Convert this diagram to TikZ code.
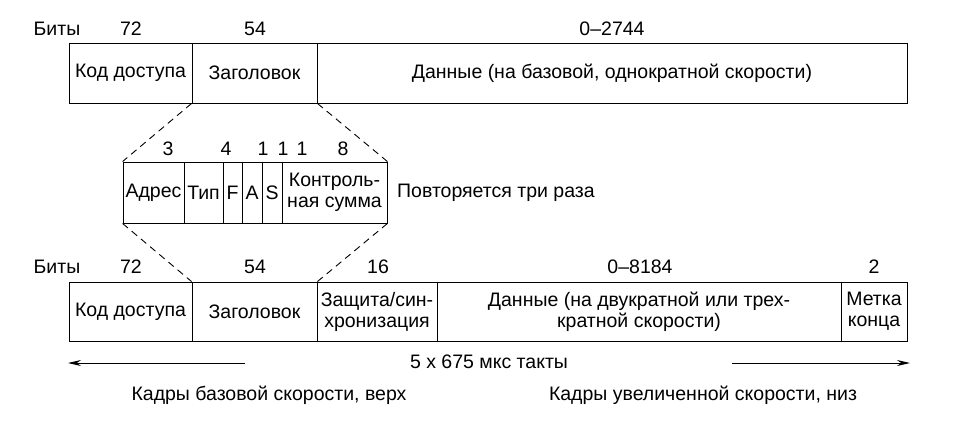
\documentclass[tikz,border=0pt]{standalone}
\usepackage{fontspec}
\setmainfont{Liberation Sans}
\usetikzlibrary{arrows.meta}
\begin{document}
\begin{tikzpicture}[x=1pt,y=-1pt,
  every node/.style={font=\fontsize{19.5}{21}\selectfont},
  cell/.style={draw,line width=0.9pt,inner sep=0pt,align=center,anchor=center},
  lbl/.style={inner sep=0pt,anchor=center},
  zoomline/.style={line width=0.9pt,dash pattern=on 7pt off 5pt},
  timearrow/.style={line width=0.9pt,-{Stealth[length=13pt,width=6pt]}}]
\useasboundingbox (0,0) rectangle (976,424);
% top frame
\node[cell,minimum width=123pt,minimum height=60pt] (acc1) at (130.5,73) {Код доступа};
\node[cell,minimum width=125pt,minimum height=60pt] (hdr1) at (254.5,73) {Заголовок};
\node[cell,minimum width=590pt,minimum height=60pt] (dat1) at (612,73) {Данные (на базовой, однократной скорости)};
\node[lbl] (bits1) at (57,29) {Биты};
\node[lbl] (l72a) at (131,29) {72};
\node[lbl] (l54a) at (255,29) {54};
\node[lbl] (l2744) at (612,29) {0–2744};
% middle header detail
\node[cell,minimum width=61pt,minimum height=61pt] (addr) at (153.5,192.5) {Адрес};
\node[cell,minimum width=39pt,minimum height=61pt] (type) at (203.5,192.5) {Тип};
\node[cell,minimum width=19pt,minimum height=61pt] (fF) at (232.5,192.5) {F};
\node[cell,minimum width=20pt,minimum height=61pt] (fA) at (252,192.5) {A};
\node[cell,minimum width=20pt,minimum height=61pt] (fS) at (272,192.5) {S};
\node[cell,minimum width=105pt,minimum height=61pt] (crc) at (334.5,192.5) {Контроль-\\ная сумма};
\node[lbl,anchor=west] (rep) at (397,193) {Повторяется три раза};
\node[lbl] (l3) at (168,149) {3};
\node[lbl] (l4) at (226,149) {4};
\node[lbl] (l1a) at (263,149) {1};
\node[lbl] (l1b) at (283,149) {1};
\node[lbl] (l1c) at (302,149) {1};
\node[lbl] (l8) at (343,149) {8};
% bottom frame
\node[cell,minimum width=123pt,minimum height=59pt] (acc2) at (130.5,311.5) {Код доступа};
\node[cell,minimum width=125pt,minimum height=59pt] (hdr2) at (254.5,311.5) {Заголовок};
\node[cell,minimum width=120pt,minimum height=59pt] (sync) at (377,311.5) {Защита/син-\\хронизация};
\node[cell,minimum width=404pt,minimum height=59pt] (dat2) at (639,311.5) {Данные (на двукратной или трех-\\кратной скорости)};
\node[cell,minimum width=66pt,minimum height=59pt] (end) at (874,311.5) {Метка\\конца};
\node[lbl] (bits2) at (57,267) {Биты};
\node[lbl] (l72b) at (131,267) {72};
\node[lbl] (l54b) at (255,267) {54};
\node[lbl] (l16) at (378,267) {16};
\node[lbl] (l8184) at (640,267) {0–8184};
\node[lbl] (l2) at (874,267) {2};
% dashed zoom lines
\draw[zoomline] (hdr1.south west) -- (addr.north west);
\draw[zoomline] (hdr1.south east) -- (crc.north east);
\draw[zoomline] (addr.south west) -- (hdr2.north west);
\draw[zoomline] (crc.south east) -- (hdr2.north east);
% time line
\node[lbl] (slot) at (489,362) {5 x 675 мкс такты};
\coordinate (la) at (245,363);
\coordinate (lb) at (68,363);
\coordinate (ra) at (732,363);
\coordinate (rb) at (910,363);
\draw[timearrow] (la) -- (lb);
\draw[timearrow] (ra) -- (rb);
\node[lbl] (basic) at (269,395) {Кадры базовой скорости, верх};
\node[lbl] (enh) at (703,395) {Кадры увеличенной скорости, низ};
\end{tikzpicture}
\end{document}
